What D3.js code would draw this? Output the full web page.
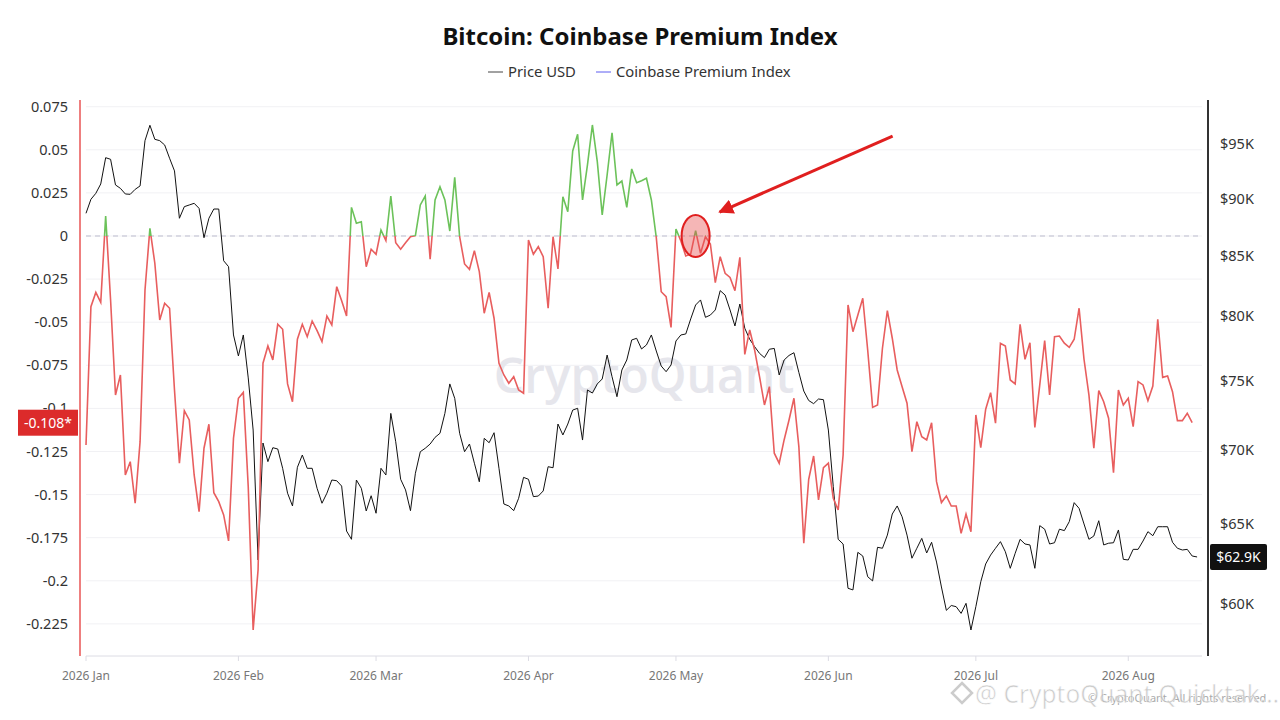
<!DOCTYPE html>
<html>
<head>
<meta charset="utf-8">
<script src="https://cdn.jsdelivr.net/npm/d3@7"></script>
<style>
  body { margin: 0; background: #fff; }
  svg { display: block; font-family: "Noto Sans", "Open Sans", sans-serif; }
</style>
</head>
<body>
<script>
// daily data, starting 2026-01-01
var startDate = new Date(Date.UTC(2026, 0, 1));

var price = [
  88680, 89930, 90470, 91320, 93750, 93600, 91230, 90920, 90410, 90380,
  90830, 91140, 95360, 96840, 95490, 95360, 94950, 93700, 92520, 88240,
  89270, 89420, 89570, 89120, 86540, 88240, 89060, 89060, 84570, 84070,
  78520, 76890, 78520, 75220, 71400, 62700, 70480, 69180, 70150, 70060,
  68720, 67030, 66180, 68790, 69640, 68720, 68720, 67360, 66360, 67030,
  67920, 67870, 67510, 64540, 64010, 67920, 67360, 65850, 66860, 65700,
  68720, 68260, 72600, 70570, 67970, 67250, 65870, 68380, 69870, 70110,
  70410, 70880, 71170, 72600, 74770, 73700, 71170, 69870, 70410, 69070,
  67800, 70810, 70500, 71210, 68720, 66310, 66180, 65870, 66690, 68100,
  67970, 66800, 66840, 67180, 68830, 68760, 71830, 71050, 71830, 72840,
  72970, 70690, 74320, 74090, 74770, 75140, 76960, 75310, 73820, 75820,
  76580, 78130, 78260, 77430, 77740, 78520, 77270, 76120, 75690, 76200,
  78050, 78520, 78600, 79790, 80910, 81320, 79920, 80100, 80510, 82080,
  81720, 80510, 79230, 80990, 79050, 78180, 77610, 77090, 76760, 77410,
  77470, 75440, 76580, 76930, 77140, 75630, 74240, 73540, 73310, 73650,
  73600, 71400, 67470, 64010, 63710, 60950, 60850, 63180, 62950, 61660,
  61400, 63500, 63440, 64280, 65650, 66180, 65470, 64280, 62810, 63440,
  64070, 63140, 63820, 62570, 61030, 59620, 59910, 59840, 59440, 60040,
  58460, 59840, 61350, 62450, 63010, 63440, 63860, 63220, 62180, 63120,
  64010, 63710, 63650, 62180, 64890, 64660, 63710, 63790, 64660, 64570,
  65150, 66400, 66020, 65000, 64010, 64220, 65210, 63650, 63760, 63790,
  64610, 62740, 62700, 63370, 63370, 63900, 64500, 64240, 64820, 64820,
  64820, 63820, 63440, 63330, 63370, 62950, 62890
];

var premium = [
  -0.1212, -0.0410, -0.0327, -0.0385, 0.0116, -0.0371, -0.0922, -0.0806, -0.1386, -0.1309,
  -0.1550, -0.1193, -0.0313, 0.0045, -0.0158, -0.0487, -0.0390, -0.0419, -0.0893, -0.1318,
  -0.1013, -0.1067, -0.1386, -0.1599, -0.1231, -0.1092, -0.1489, -0.1541, -0.1618, -0.1769,
  -0.1173, -0.0941, -0.0907, -0.1454, -0.2285, -0.1937, -0.0738, -0.0638, -0.0719, -0.0512,
  -0.0541, -0.0858, -0.0961, -0.0599, -0.0512, -0.0584, -0.0493, -0.0549, -0.0613, -0.0464,
  -0.0516, -0.0294, -0.0375, -0.0464, 0.0166, 0.0074, 0.0083, -0.0178, -0.0077, -0.0106,
  0.0035, -0.0027, 0.0232, -0.0039, -0.0077, -0.0039, -0.0004, 0.0002, 0.0180, 0.0232,
  -0.0135, 0.0209, 0.0286, 0.0209, 0.0029, 0.0340, -0.0004, -0.0162, -0.0193, -0.0085,
  -0.0207, -0.0448, -0.0327, -0.0477, -0.0738, -0.0806, -0.0854, -0.0816, -0.0893, -0.0912,
  -0.0023, -0.0106, -0.0062, -0.0120, -0.0419, -0.0004, -0.0191, 0.0228, 0.0141, 0.0493,
  0.0590, 0.0209, 0.0412, 0.0644, 0.0431, 0.0122, 0.0354, 0.0599, 0.0296, 0.0319,
  0.0166, 0.0389, 0.0309, 0.0321, 0.0335, 0.0209, -0.0009, -0.0323, -0.0352, -0.0530,
  0.0041, -0.0029, -0.0116, -0.0104, 0.0031, -0.0100, -0.0004, -0.0046, -0.0271, -0.0120,
  -0.0216, -0.0240, -0.0317, -0.0124, -0.0687, -0.0545, -0.0661, -0.0816, -0.0980, -0.0874,
  -0.1260, -0.1318, -0.1183, -0.1067, -0.0941, -0.1222, -0.1782, -0.1411, -0.1276, -0.1531,
  -0.1344, -0.1318, -0.1521, -0.1589, -0.1270, -0.0400, -0.0555, -0.0458, -0.0361, -0.0661,
  -0.0994, -0.0980, -0.0651, -0.0433, -0.0593, -0.0777, -0.0874, -0.0970, -0.1251, -0.1077,
  -0.1164, -0.1183, -0.1083, -0.1425, -0.1546, -0.1508, -0.1566, -0.1566, -0.1725, -0.1613,
  -0.1715, -0.1038, -0.1227, -0.1005, -0.0909, -0.1086, -0.0622, -0.0638, -0.0835, -0.0858,
  -0.0512, -0.0715, -0.0619, -0.1110, -0.0864, -0.0607, -0.0922, -0.0584, -0.0580, -0.0622,
  -0.0646, -0.0599, -0.0419, -0.0715, -0.0922, -0.1231, -0.0897, -0.0961, -0.1057, -0.1373,
  -0.0893, -0.0980, -0.0941, -0.1106, -0.0845, -0.0864, -0.0955, -0.0870, -0.0483, -0.0820,
  -0.0812, -0.0903, -0.1071, -0.1071, -0.1028, -0.1083
];

var premiumTicks = [0.075, 0.05, 0.025, 0, -0.025, -0.05, -0.075, -0.1, -0.125, -0.15, -0.175, -0.2, -0.225];
var priceTicks = [60000, 65000, 70000, 75000, 80000, 85000, 90000, 95000];
var monthTicks = ["2026-01-01", "2026-02-01", "2026-03-01", "2026-04-01", "2026-05-01", "2026-06-01", "2026-07-01", "2026-08-01"];

var width = 1280, height = 720;
var plotLeft = 86, plotRight = 1202, plotTop = 100, plotBottom = 656;

var svg = d3.select("body").append("svg").attr("width", width).attr("height", height);

var x = d3.scaleUtc()
    .domain([startDate, d3.utcDay.offset(startDate, 227)])
    .range([plotLeft, plotRight]);
var yPrem = d3.scaleLinear().domain([-0.24362, 0.07889]).range([plotBottom, plotTop]);
var yPrice = d3.scaleLog().domain([56960, 99318]).range([plotBottom, plotTop]);

function day(i) { return d3.utcDay.offset(startDate, i); }

// title + legend
svg.append("text").attr("x", 640).attr("y", 45).attr("text-anchor", "middle")
    .style("font-size", "24px").style("font-weight", "bold").style("fill", "#111")
    .text("Bitcoin: Coinbase Premium Index");

var legend = svg.append("g").style("font-size", "14.8px").style("fill", "#333");
legend.append("line").attr("x1", 488).attr("x2", 503).attr("y1", 72).attr("y2", 72).attr("stroke", "#444");
legend.append("text").attr("x", 508).attr("y", 77).text("Price USD");
legend.append("line").attr("x1", 596).attr("x2", 611).attr("y1", 72).attr("y2", 72).attr("stroke", "#5c5cf0");
legend.append("text").attr("x", 616).attr("y", 77).text("Coinbase Premium Index");

// gridlines
svg.append("g").selectAll("line").data(premiumTicks).join("line")
    .attr("x1", plotLeft).attr("x2", plotRight)
    .attr("y1", function (d) { return yPrem(d); }).attr("y2", function (d) { return yPrem(d); })
    .attr("stroke", "#f1f1f4").attr("stroke-width", 1);

// watermark
svg.append("text").attr("x", 644).attr("y", 393).attr("text-anchor", "middle")
    .style("font-size", "48px").style("font-weight", "600").style("fill", "#e6e6ec")
    .style("font-family", "Open Sans, sans-serif").text("CryptoQuant");

// zero line
svg.append("line").attr("x1", plotLeft).attr("x2", plotRight)
    .attr("y1", yPrem(0)).attr("y2", yPrem(0))
    .attr("stroke", "#bdbdcf").attr("stroke-dasharray", "5,4");

// x axis
svg.append("line").attr("x1", plotLeft).attr("x2", plotRight).attr("y1", plotBottom).attr("y2", plotBottom)
    .attr("stroke", "#dcdce4");
var fmtMonth = d3.utcFormat("%Y %b");
var xt = svg.append("g").selectAll("g").data(monthTicks).join("g")
    .attr("transform", function (d) { return "translate(" + x(new Date(d + "T00:00:00Z")) + ",0)"; });
xt.append("line").attr("y1", plotBottom).attr("y2", plotBottom + 5).attr("stroke", "#dcdce4");
xt.append("text").attr("y", plotBottom + 24).attr("text-anchor", "middle")
    .style("font-size", "12px").style("fill", "#777")
    .text(function (d) { return fmtMonth(new Date(d + "T00:00:00Z")); });

// left axis
svg.append("line").attr("x1", 80).attr("x2", 80).attr("y1", plotTop).attr("y2", plotBottom)
    .attr("stroke", "#ee7f7f").attr("stroke-width", 2);
svg.append("g").selectAll("text").data(premiumTicks).join("text")
    .attr("x", 68).attr("y", function (d) { return yPrem(d) + 5; })
    .attr("text-anchor", "end").style("font-size", "14.5px").style("fill", "#333")
    .text(function (d) { return String(+d.toFixed(3)); });

// right axis
svg.append("line").attr("x1", 1208).attr("x2", 1208).attr("y1", plotTop).attr("y2", plotBottom)
    .attr("stroke", "#333").attr("stroke-width", 2);
svg.append("g").selectAll("text").data(priceTicks).join("text")
    .attr("x", 1220).attr("y", function (d) { return yPrice(d) + 5; })
    .style("font-size", "14.5px").style("fill", "#333")
    .text(function (d) { return "$" + (d / 1000) + "K"; });

// price line
var priceLine = d3.line()
    .x(function (d, i) { return x(day(i)); })
    .y(function (d) { return yPrice(d); });
svg.append("path").datum(price).attr("d", priceLine)
    .attr("fill", "none").attr("stroke", "#111").attr("stroke-width", 1);

// premium line, green above zero and red below
var defs = svg.append("defs");
defs.append("clipPath").attr("id", "above").append("rect")
    .attr("x", plotLeft - 5).attr("width", plotRight - plotLeft + 10)
    .attr("y", 0).attr("height", yPrem(0));
defs.append("clipPath").attr("id", "below").append("rect")
    .attr("x", plotLeft - 5).attr("width", plotRight - plotLeft + 10)
    .attr("y", yPrem(0)).attr("height", height - yPrem(0));

var premLine = d3.line()
    .x(function (d, i) { return x(day(i)); })
    .y(function (d) { return yPrem(d); });
svg.append("path").datum(premium).attr("d", premLine).attr("clip-path", "url(#above)")
    .attr("fill", "none").attr("stroke", "#6cc25a").attr("stroke-width", 1.6);
svg.append("path").datum(premium).attr("d", premLine).attr("clip-path", "url(#below)")
    .attr("fill", "none").attr("stroke", "#e85e5e").attr("stroke-width", 1.6);

// annotation: circle and arrow
var markDay = 124;
var cx = x(day(markDay)), cy = yPrem(0);
svg.append("ellipse").attr("cx", cx).attr("cy", cy).attr("rx", 14).attr("ry", 21)
    .attr("fill", "rgba(232,80,80,0.42)").attr("stroke", "#e01f1f").attr("stroke-width", 2);
defs.append("marker").attr("id", "arrow").attr("viewBox", "0 0 10 10")
    .attr("refX", 9).attr("refY", 5).attr("markerWidth", 5).attr("markerHeight", 5)
    .attr("orient", "auto").append("path").attr("d", "M0,0L10,5L0,10z").attr("fill", "#e01f1f");
svg.append("line").attr("x1", cx + 197).attr("y1", cy - 100).attr("x2", cx + 24).attr("y2", cy - 24)
    .attr("stroke", "#e01f1f").attr("stroke-width", 3).attr("marker-end", "url(#arrow)");

// last value tags
var lastPrem = premium[premium.length - 1];
var lastPrice = price[price.length - 1];
var tagL = svg.append("g").attr("transform", "translate(18," + (yPrem(lastPrem) - 13) + ")");
tagL.append("rect").attr("width", 60).attr("height", 26).attr("fill", "#dc2b2b");
tagL.append("text").attr("x", 30).attr("y", 18).attr("text-anchor", "middle")
    .style("font-size", "14px").style("fill", "#fff").text(lastPrem.toFixed(3) + "*");
var tagR = svg.append("g").attr("transform", "translate(1210," + (yPrice(lastPrice) - 13) + ")");
tagR.append("rect").attr("width", 57).attr("height", 26).attr("rx", 2).attr("fill", "#111");
tagR.append("text").attr("x", 28.5).attr("y", 18).attr("text-anchor", "middle")
    .style("font-size", "14px").style("fill", "#fff").text("$" + (lastPrice / 1000).toFixed(1) + "K");

// footer overlay marks
svg.append("text").attr("x", 1088).attr("y", 702).style("font-size", "11px").style("fill", "#aaa")
    .text("© CryptoQuant. All rights reserved");
svg.append("path").attr("d", "M962,683 l10,10 l-10,10 l-10,-10z")
    .attr("fill", "none").attr("stroke", "#ccc").attr("stroke-width", 2.5);
svg.append("text").attr("x", 975).attr("y", 703).style("font-size", "24.5px").style("fill", "#bbb")
    .style("opacity", 0.75).style("stroke", "#fff").style("stroke-width", 0.6)
    .text("@ CryptoQuant Quicktak…");
</script>
</body>
</html>
